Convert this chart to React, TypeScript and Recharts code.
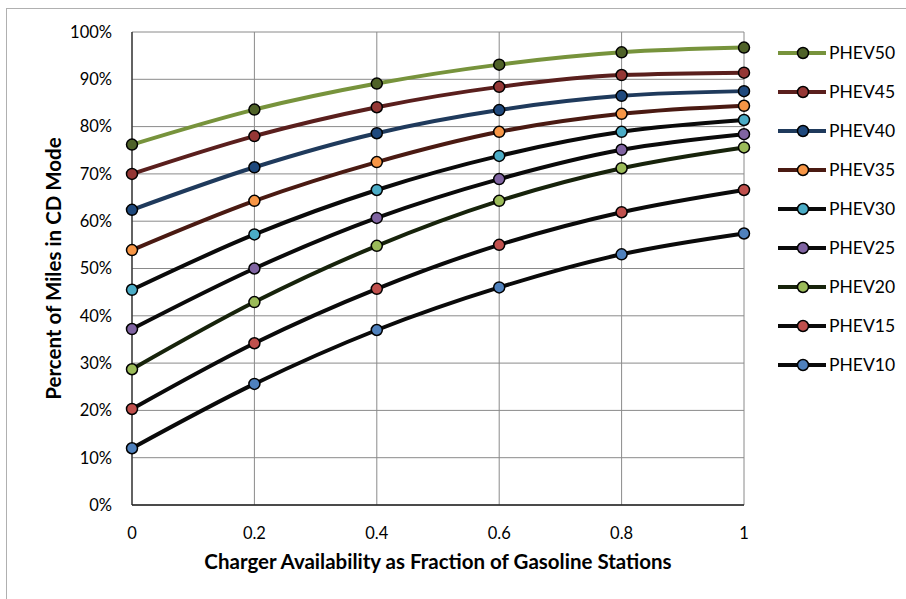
import React from "react";
import {
  LineChart,
  Line,
  XAxis,
  YAxis,
  CartesianGrid,
} from "recharts";

// charger availability (fraction of gasoline stations)
const xValues = [0, 0.2, 0.4, 0.6, 0.8, 1];
const yTicks = [0, 10, 20, 30, 40, 50, 60, 70, 80, 90, 100];

// percent of miles in CD mode
const phev50 = [76.2, 83.6, 89.1, 93.1, 95.7, 96.7];
const phev45 = [70.0, 78.0, 84.1, 88.4, 90.9, 91.4];
const phev40 = [62.4, 71.4, 78.6, 83.5, 86.5, 87.5];
const phev35 = [53.9, 64.3, 72.5, 78.9, 82.7, 84.4];
const phev30 = [45.5, 57.2, 66.6, 73.8, 78.9, 81.4];
const phev25 = [37.2, 50.0, 60.7, 68.9, 75.1, 78.4];
const phev20 = [28.7, 42.9, 54.8, 64.3, 71.2, 75.6];
const phev15 = [20.3, 34.2, 45.7, 55.0, 61.9, 66.6];
const phev10 = [12.0, 25.6, 37.0, 46.0, 53.0, 57.4];

const series = [
  { key: "PHEV50", values: phev50, line: "#77933C", fill: "#4F6228" },
  { key: "PHEV45", values: phev45, line: "#5a1f1d", fill: "#953735" },
  { key: "PHEV40", values: phev40, line: "#1f3a5c", fill: "#1F497D" },
  { key: "PHEV35", values: phev35, line: "#4a1a12", fill: "#F79646" },
  { key: "PHEV30", values: phev30, line: "#0a0a0a", fill: "#4BACC6" },
  { key: "PHEV25", values: phev25, line: "#0a0a0a", fill: "#8064A2" },
  { key: "PHEV20", values: phev20, line: "#17230b", fill: "#9BBB59" },
  { key: "PHEV15", values: phev15, line: "#0a0a0a", fill: "#C0504D" },
  { key: "PHEV10", values: phev10, line: "#0a0a0a", fill: "#4F81BD" },
];

const data = xValues.map((x, i) => {
  const row: any = { x };
  series.forEach((s) => {
    row[s.key] = s.values[i];
  });
  return row;
});

const FONT = "Lato, 'Open Sans', sans-serif";
const titleStyle = { fontSize: 20.5, fontWeight: 700, fill: "#000", fontFamily: FONT };

const Legend = () => (
  <div
    style={{
      position: "absolute",
      left: 776,
      top: 33,
      fontFamily: FONT,
      fontSize: 17.5,
      color: "#000",
    }}
  >
    {series.map((s) => (
      <div
        key={s.key}
        style={{ display: "flex", alignItems: "center", height: 39 }}
      >
        <svg width={52} height={14}>
          <line x1={2} y1={7} x2={50} y2={7} stroke={s.line} strokeWidth={4} />
          <circle cx={27} cy={7} r={5.5} fill={s.fill} stroke="#000" strokeWidth={1.5} />
        </svg>
        <span style={{ marginLeft: 1 }}>{s.key}</span>
      </div>
    ))}
  </div>
);

export default function App() {
  return (
    <div
      style={{
        position: "absolute",
        left: 0,
        top: 0,
        width: 906,
        height: 599,
        background: "#fff",
        overflow: "hidden",
      }}
    >
      <div
        style={{
          position: "absolute",
          left: 6,
          top: 8,
          width: 920,
          height: 620,
          borderLeft: "1px solid #b0b0b0",
          borderTop: "1px solid #b0b0b0",
        }}
      />
      <LineChart
        width={906}
        height={599}
        data={data}
        margin={{ top: 32, right: 162, left: 0, bottom: 0 }}
        style={{ position: "absolute", left: 0, top: 0 }}
      >
        <CartesianGrid stroke="#8a8a8a" strokeWidth={1} />
        <XAxis
          dataKey="x"
          type="number"
          domain={[0, 1]}
          ticks={xValues}
          height={94}
          axisLine={{ stroke: "#222", strokeWidth: 1.5 }}
          tickLine={false}
          tickMargin={16}
          tick={{ fontSize: 16.5, fill: "#000", fontFamily: FONT }}
          label={{
            value: "Charger Availability as Fraction of Gasoline Stations",
            position: "center",
            dy: 10,
            style: titleStyle,
          }}
        />
        <YAxis
          type="number"
          domain={[0, 100]}
          ticks={yTicks}
          width={132}
          axisLine={{ stroke: "#222", strokeWidth: 1.2 }}
          tickLine={false}
          tickMargin={14}
          tickFormatter={(v: number) => `${v}%`}
          tick={{ fontSize: 16.5, fill: "#000", fontFamily: FONT }}
          label={{
            value: "Percent of Miles in CD Mode",
            angle: -90,
            position: "center",
            dx: -12,
            style: titleStyle,
          }}
        />
        {series.map((s) => (
          <Line
            key={s.key}
            dataKey={s.key}
            type="monotone"
            stroke={s.line}
            strokeWidth={4}
            dot={{ r: 5.5, fill: s.fill, stroke: "#000", strokeWidth: 1.5 }}
            activeDot={false}
            isAnimationActive={false}
          />
        ))}
      </LineChart>
      <Legend />
    </div>
  );
}
